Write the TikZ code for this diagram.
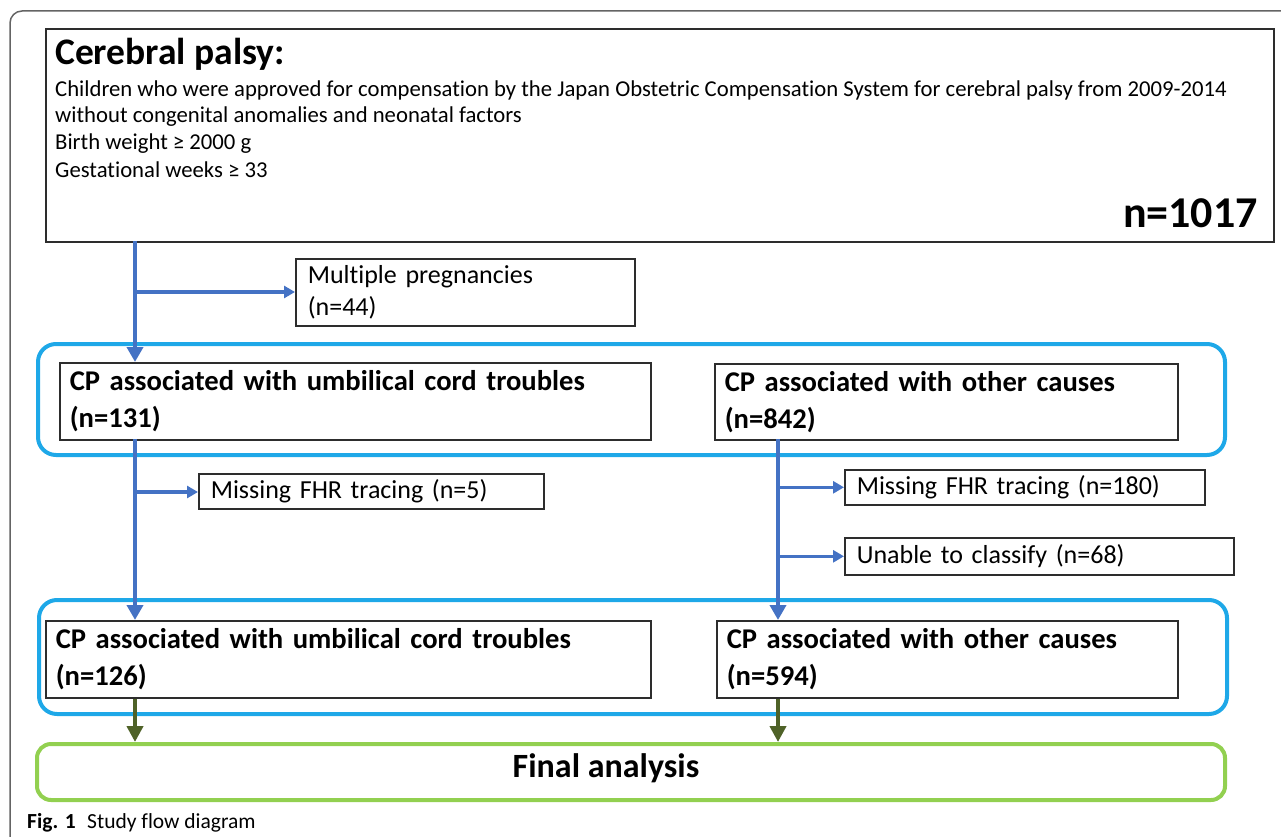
\documentclass[tikz,border=0pt]{standalone}
\usepackage{fontspec}
\setmainfont{Carlito}[Ligatures=NoCommon]
\usetikzlibrary{arrows.meta}
\definecolor{flowblue}{RGB}{68,114,196}
\definecolor{groupblue}{RGB}{30,168,232}
\definecolor{finalgreen}{RGB}{146,208,80}
\definecolor{darkgreen}{RGB}{79,98,40}
\definecolor{boxgray}{RGB}{45,45,45}
\definecolor{framegray}{RGB}{100,100,100}
\tikzstyle{mainbox}=[draw=boxgray,line width=1.6pt,anchor=north west,inner sep=0pt]
\tikzstyle{groupbox}=[draw=groupblue,line width=4pt,rounded corners=18pt,anchor=north west,inner sep=0pt]
\tikzstyle{finalbox}=[draw=finalgreen,line width=4pt,rounded corners=14pt,anchor=north west,inner sep=0pt]
\tikzstyle{excl}=[draw=boxgray,line width=1.6pt,anchor=north west,inner xsep=12pt,inner ysep=0pt,align=left,font=\fontsize{26}{32}\selectfont]
\tikzstyle{cpbox}=[draw=boxgray,line width=1.6pt,anchor=north west,inner xsep=10pt,inner ysep=0pt,align=left,font=\fontsize{28.6}{37}\selectfont\bfseries]
\tikzstyle{line}=[anchor=base west,inner sep=0pt,font=\fontsize{22.7}{27}\selectfont]
\tikzstyle{trunk}=[flowblue,line width=4.5pt,-{Triangle[length=15pt,width=16pt]}]
\tikzstyle{branch}=[flowblue,line width=3.5pt,-{Triangle[length=11pt,width=12pt]}]
\tikzstyle{tofinal}=[darkgreen,line width=4.5pt,-{Triangle[length=16pt,width=16pt]}]

\begin{document}
\begin{tikzpicture}[x=1pt,y=-1pt]
\useasboundingbox (0,0) rectangle (1281,837);
\draw[framegray,line width=1.5pt,rounded corners=12pt] (10,837) -- (10,11) -- (1281,11);

\node[mainbox,minimum width=1228pt,minimum height=213pt] (cerebral) at (45,28) {};
\node[anchor=base west,inner sep=0pt,font=\fontsize{37.5}{44}\selectfont\bfseries] (title) at (55,65) {Cerebral palsy:};
\node[line] (line1) at (55,97) {Children who were approved for compensation by the Japan Obstetric Compensation System for cerebral palsy from 2009-2014};
\node[line] (line2) at (55,123) {without congenital anomalies and neonatal factors};
\node[line] (line3) at (55,150) {Birth weight ≥ 2000 g};
\node[line] (line4) at (55,178) {Gestational weeks ≥ 33};
\node[anchor=base east,inner sep=0pt,font=\fontsize{44}{50}\selectfont\bfseries] (total) at (1258,227) {n=1017};

\node[excl,text width=315pt,minimum height=67pt] (multiple) at (295,258) {Multiple pregnancies\\(n=44)};

\node[groupbox,minimum width=1187pt,minimum height=111pt] (group1) at (36,342) {};
\node[cpbox,text width=571pt,minimum height=77pt] (cordA) at (59,362) {CP associated with umbilical cord troubles\\(n=131)};
\node[cpbox,text width=443pt,minimum height=76pt] (otherA) at (714,363) {CP associated with other causes\\(n=842)};

\node[excl,text width=321pt,minimum height=35pt] (fhrA) at (198,473) {Missing FHR tracing (n=5)};
\node[excl,text width=336pt,minimum height=35pt] (fhrB) at (844,469) {Missing FHR tracing (n=180)};
\node[excl,text width=365pt,minimum height=37pt] (unable) at (844,537) {Unable to classify (n=68)};

\node[groupbox,minimum width=1188pt,minimum height=114pt] (group2) at (37,598) {};
\node[cpbox,text width=585pt,minimum height=77pt] (cordB) at (45,620) {CP associated with umbilical cord troubles\\(n=126)};
\node[cpbox,text width=441pt,minimum height=77pt] (otherB) at (716,620) {CP associated with other causes\\(n=594)};

\node[finalbox,minimum width=1188pt,minimum height=56pt] (analysis) at (35,742) {};
\node[anchor=base,inner sep=0pt,font=\fontsize{34}{40}\selectfont\bfseries] (analysislabel) at (606,777) {Final analysis};

\coordinate (leftA) at (135,241);
\coordinate (splitA) at (135,292);
\coordinate (leftB) at (135,439);
\coordinate (splitB) at (135,492);
\coordinate (rightB) at (778,439);

\draw[trunk] (leftA) -- (leftA |- cordA.north);
\draw[branch] (splitA) -- (splitA -| multiple.west);
\draw[trunk] (leftB) -- (leftB |- cordB.north);
\draw[branch] (splitB) -- (splitB -| fhrA.west);
\draw[trunk] (rightB) -- (rightB |- otherB.north);
\draw[branch] (rightB |- fhrB.west) -- (fhrB.west);
\draw[branch] (rightB |- unable.west) -- (unable.west);
\draw[tofinal] (leftB |- cordB.south) -- (leftB |- analysis.north);
\draw[tofinal] (rightB |- otherB.south) -- (rightB |- analysis.north);

\node[anchor=base west,inner sep=0pt,font=\fontsize{21.5}{26}\selectfont\bfseries] (fig) at (27,828) {Fig. 1};
\node[anchor=base west,inner sep=0pt,font=\fontsize{21.5}{26}\selectfont] (caption) at (87,828) {Study flow diagram};
\end{tikzpicture}
\end{document}
